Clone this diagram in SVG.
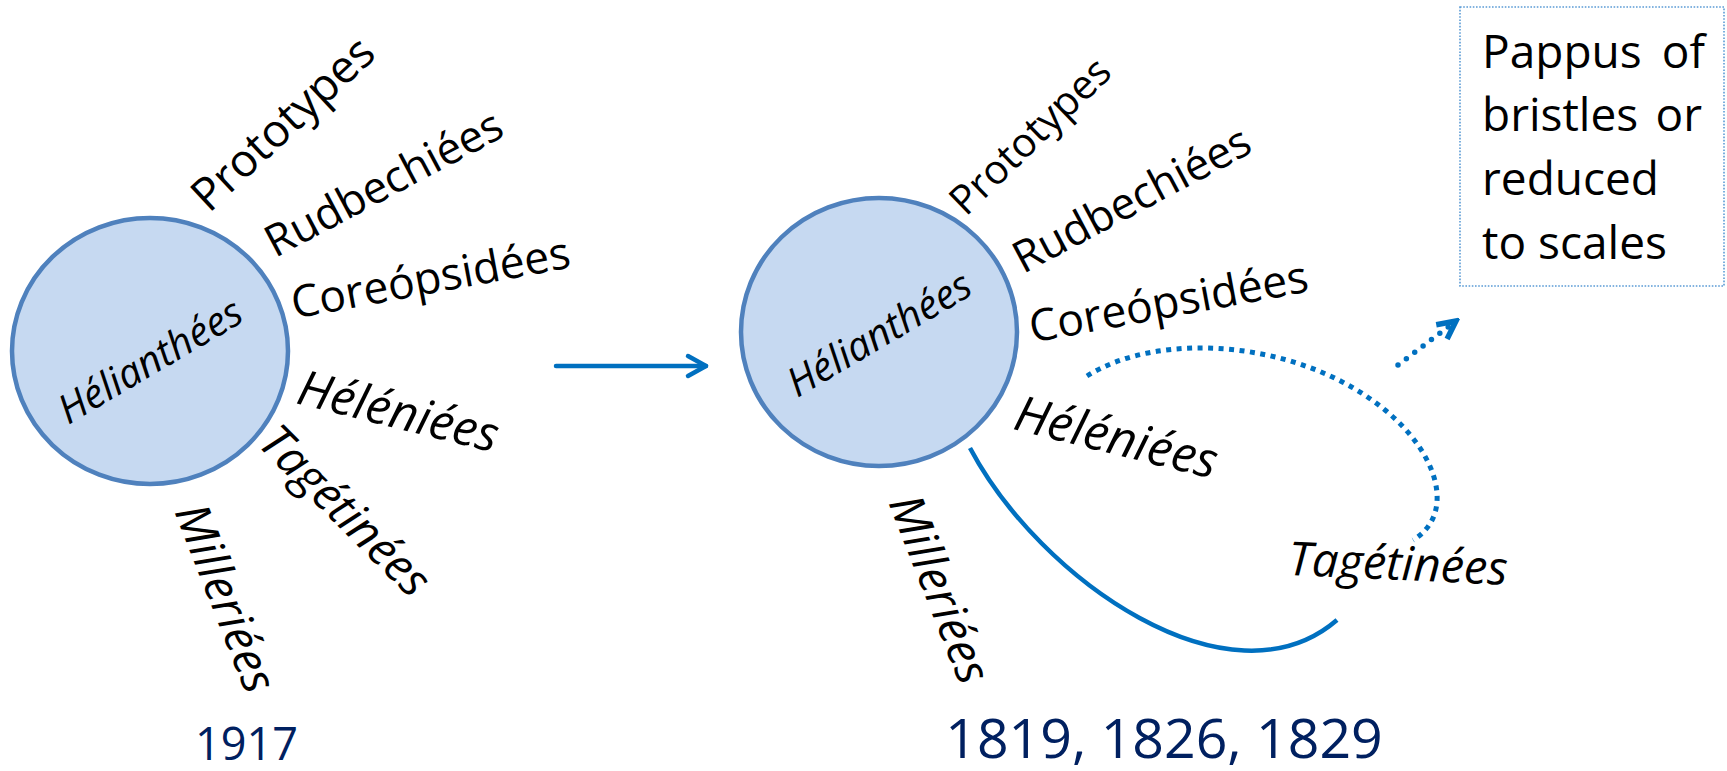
<svg xmlns="http://www.w3.org/2000/svg" width="1727" height="771" viewBox="0 0 1727 771">
  <style>
    .lbl { font-family: "Open Sans", "Liberation Sans", sans-serif; fill: #000; text-anchor: middle; }
    .it { font-style: italic; }
    .node { fill: #C6D9F1; stroke: #4F81BD; stroke-width: 4.5; }
    .year { font-family: "Open Sans", "Liberation Sans", sans-serif; fill: #002060; text-anchor: middle; }
    .conn { fill: none; stroke: #0070C0; }
    .box { fill: #fff; stroke: #5B9BD5; stroke-width: 1.6; stroke-dasharray: 1.6 1.6; }
    .boxtxt { font-family: "Open Sans", "Liberation Sans", sans-serif; font-size: 46px; fill: #000; }
  </style>
  <defs>
    <marker id="chev" viewBox="0 0 30 30" refX="24" refY="15" markerWidth="30" markerHeight="30" markerUnits="userSpaceOnUse" orient="auto">
      <path d="M6,5 L24,15 L6,25" fill="none" stroke="#0070C0" stroke-width="4.5" stroke-linecap="round" stroke-linejoin="round"/>
    </marker>
    <marker id="dotHead" viewBox="0 0 30 30" refX="26" refY="15" markerWidth="30" markerHeight="30" markerUnits="userSpaceOnUse" orient="auto">
      <path d="M8,6 L26,15 L8,24" fill="none" stroke="#0070C0" stroke-width="5.5" stroke-linejoin="miter"/>
    </marker>
  </defs>

  <!-- 1917 side -->
  <g id="node-left">
    <ellipse class="node" cx="150" cy="351" rx="138" ry="133"/>
    <text class="lbl it" font-size="40" transform="translate(149,359) rotate(-30.5)" y="15.8">Hélianthées</text>
  </g>
  <g id="labels-left">
    <text class="lbl" font-size="45.5" transform="translate(286,127) rotate(-43)" y="10.8">Prototypes</text>
    <text class="lbl" font-size="44" transform="translate(383,182) rotate(-28)" y="16.7">Rudbechiées</text>
    <text class="lbl" font-size="44.5" transform="translate(431,281) rotate(-10.5)" y="12.2">Coreópsidées</text>
    <text class="lbl it" font-size="49" transform="translate(399,409) rotate(14)" y="19.4">Héléniées</text>
    <text class="lbl it" font-size="47" transform="translate(343,513) rotate(45)" y="12.9">Tagétinées</text>
    <text class="lbl it" font-size="47.5" transform="translate(228,597) rotate(68.5)" y="18.8">Milleriées</text>
  </g>
  <g id="year-left">
    <text class="year" font-size="45" x="246.5" y="760">1917</text>
  </g>

  <!-- 1819-1829 side -->
  <g id="node-right">
    <ellipse class="node" cx="879" cy="332" rx="138" ry="134"/>
    <text class="lbl it" font-size="40" transform="translate(878,332) rotate(-30.5)" y="15.8">Hélianthées</text>
  </g>
  <g id="labels-right">
    <text class="lbl" font-size="40.5" transform="translate(1033,139) rotate(-44)" y="9.6">Prototypes</text>
    <text class="lbl" font-size="44" transform="translate(1131,198) rotate(-28)" y="16.7">Rudbechiées</text>
    <text class="lbl" font-size="44.5" transform="translate(1169,305) rotate(-10.5)" y="12.2">Coreópsidées</text>
    <text class="lbl it" font-size="49.5" transform="translate(1117,435) rotate(14)" y="19.5">Héléniées</text>
    <text class="lbl it" font-size="47.5" transform="translate(942,588) rotate(68.5)" y="18.8">Milleriées</text>
    <text class="lbl it" font-size="47" transform="translate(1398,567) rotate(2.6)" y="12.9">Tagétinées</text>
  </g>
  <g id="year-right">
    <text class="year" font-size="55.4" x="1164" y="758">1819, 1826, 1829</text>
  </g>

  <g id="note-box">
    <rect class="box" x="1460" y="7" width="264" height="279"/>
    <text class="boxtxt" x="1482" y="68">Pappus</text>
    <text class="boxtxt" x="1705" y="68" text-anchor="end">of</text>
    <text class="boxtxt" x="1482" y="131">bristles</text>
    <text class="boxtxt" x="1702" y="131" text-anchor="end">or</text>
    <text class="boxtxt" x="1482" y="195">reduced</text>
    <text class="boxtxt" x="1482" y="259">to scales</text>
  </g>

  <g id="connectors">
    <line class="conn" x1="556" y1="366" x2="706" y2="366" stroke-width="4.5" stroke-linecap="round" marker-end="url(#chev)"/>
    <path class="conn" d="M970,448 C1040,580 1230,712 1337,620" stroke-width="4.5"/>
    <path class="conn" d="M1087,376 C1160,330 1300,340 1385,410 C1440,455 1455,515 1413,540" stroke-width="5" stroke-dasharray="5 5.5"/>
    <path class="conn" d="M1398,365 L1456,321" stroke-width="5.5" stroke-linecap="round" stroke-dasharray="0 10.5" marker-end="url(#dotHead)"/>
  </g>
</svg>
